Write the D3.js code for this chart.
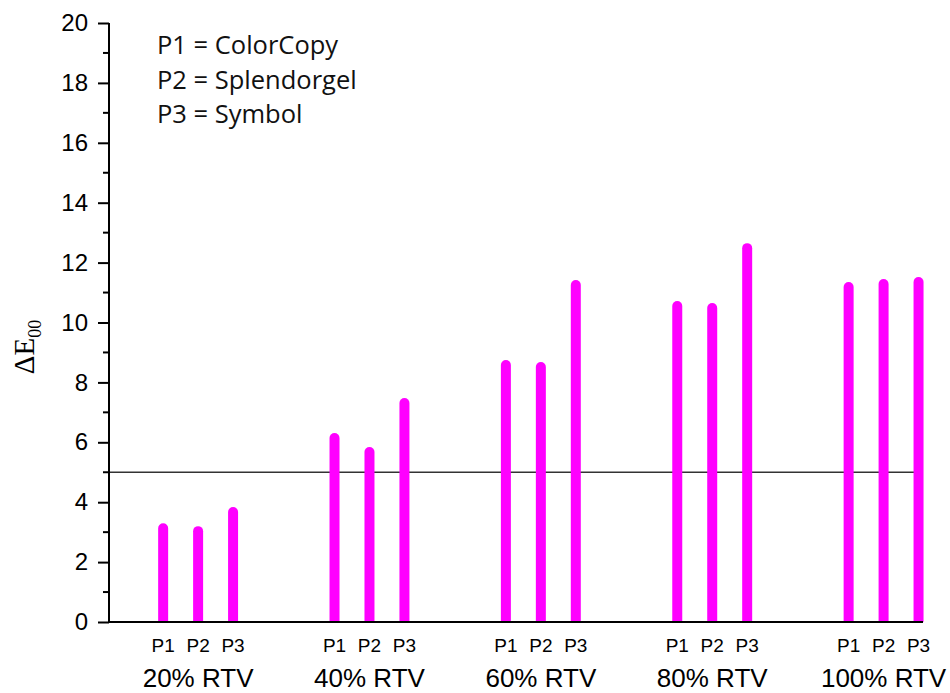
<!DOCTYPE html>
<html><head><meta charset="utf-8">
<script src="https://cdn.jsdelivr.net/npm/d3@7"></script>
<style>body{margin:0;background:#fff}svg{display:block}</style>
</head><body>
<svg id="c" width="950" height="693"></svg>
<script>
const groups = ["20% RTV","40% RTV","60% RTV","80% RTV","100% RTV"];
const products = ["P1","P2","P3"];
const p1 = [3.30, 6.31, 8.75, 10.72, 11.35];
const p2 = [3.20, 5.84, 8.68, 10.65, 11.45];
const p3 = [3.84, 7.48, 11.42, 12.65, 11.52];
const threshold = 5;
const legendLines = ["P1 = ColorCopy","P2 = Splendorgel","P3 = Symbol"];
const yTicks = [0,2,4,6,8,10,12,14,16,18,20];

const series = [p1,p2,p3];
const svg = d3.select("#c");
const x = d3.scaleLinear().domain([0.48, 5.23]).range([109, 923]);
const y = d3.scaleLinear().domain([0, 20]).range([622, 23]);
const offset = 0.204;
const barW = 10;
const magenta = "#ff00ff";

// threshold line
svg.append("line").attr("x1", x(0.48)).attr("x2", x(5.23))
  .attr("y1", y(threshold)).attr("y2", y(threshold))
  .attr("stroke", "#333").attr("stroke-width", 1.6);

// bars (rounded top)
const data = [];
groups.forEach((g, gi) => products.forEach((p, pi) => {
  data.push({g, gi, p, pi, v: series[pi][gi]});
}));
svg.append("g").selectAll("path").data(data).enter().append("path")
  .attr("fill", magenta)
  .attr("d", d => {
    const cx = x(d.gi + 1 + (d.pi - 1) * offset);
    const top = y(d.v), bot = y(0), r = barW / 2;
    return `M${cx - r},${bot} L${cx - r},${top + r} A${r},${r} 0 0 1 ${cx + r},${top + r} L${cx + r},${bot} Z`;
  });

// y axis
const yAxis = d3.axisLeft(y).tickValues(yTicks).tickSize(11).tickPadding(10);
const ga = svg.append("g").attr("transform", `translate(${x(0.48)},0)`).call(yAxis);
ga.select(".domain").attr("stroke", "#000").attr("stroke-width", 2).attr("d", `M0,${y(0)}V${y(20)}`);
ga.selectAll(".tick line").attr("stroke", "#000").attr("stroke-width", 2);
ga.selectAll(".tick text").attr("font-family", "Liberation Sans, Arial, sans-serif").attr("font-size", 24).attr("fill", "#000");
// minor ticks
const minor = d3.range(1, 20, 2);
svg.append("g").selectAll("line").data(minor).enter().append("line")
  .attr("x1", x(0.48) - 6).attr("x2", x(0.48))
  .attr("y1", d => y(d)).attr("y2", d => y(d))
  .attr("stroke", "#000").attr("stroke-width", 2);

// x axis line
svg.append("line").attr("x1", x(0.48) - 1).attr("x2", x(5.23))
  .attr("y1", y(0)).attr("y2", y(0)).attr("stroke", "#000").attr("stroke-width", 2);

// product labels
svg.append("g").selectAll("text").data(data).enter().append("text")
  .attr("x", d => x(d.gi + 1 + (d.pi - 1) * offset))
  .attr("y", 652).attr("text-anchor", "middle")
  .attr("font-family", "Liberation Sans, Arial, sans-serif").attr("font-size", 19)
  .text(d => d.p);

// group labels
svg.append("g").selectAll("text").data(groups).enter().append("text")
  .attr("x", (d, i) => x(i + 1)).attr("y", 687).attr("text-anchor", "middle")
  .attr("font-family", "Liberation Sans, Arial, sans-serif").attr("font-size", 26)
  .text(d => d);

// y label
const yl = svg.append("text").attr("transform", "translate(34,347) rotate(-90)")
  .attr("text-anchor", "middle").attr("font-family", "Liberation Serif, Times New Roman, serif")
  .attr("font-size", 29).attr("fill", "#000");
yl.append("tspan").text("ΔE");
yl.append("tspan").attr("font-size", 18).attr("dy", 7).text("00");

// legend
svg.append("g").selectAll("text").data(legendLines).enter().append("text")
  .attr("x", 157).attr("y", (d, i) => 54 + i * 34.5)
  .attr("font-family", "Open Sans, sans-serif").attr("font-size", 25.5).attr("fill", "#111")
  .text(d => d);
</script>
</body></html>
